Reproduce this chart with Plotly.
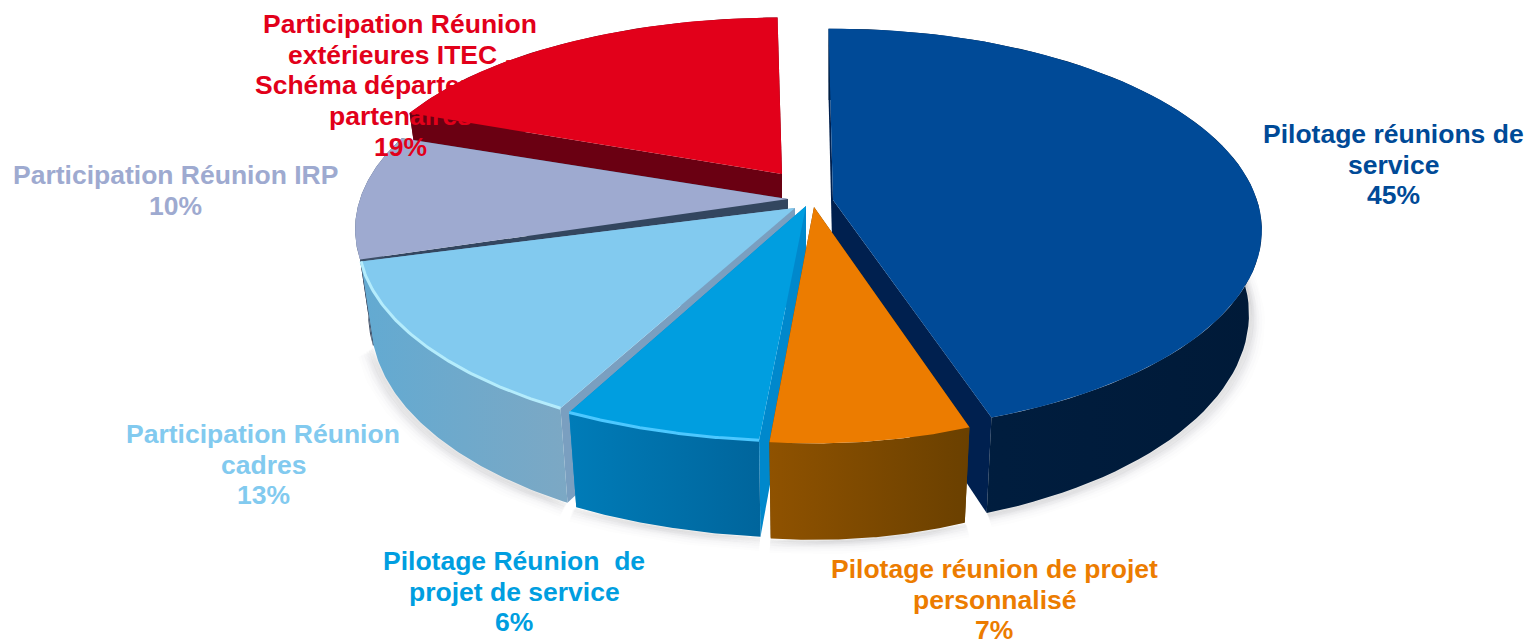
import numpy as np
import plotly.graph_objects as go

# ---- data ----
labels = ["Pilotage réunions de<br>service",
          "Pilotage réunion de projet<br>personnalisé",
          "Pilotage Réunion  de<br>projet de service",
          "Participation Réunion<br>cadres",
          "Participation Réunion IRP",
          "Participation Réunion<br>extérieures ITEC .<br>Schéma départemental<br>partenaires"]
values = [45, 7, 6, 13, 10, 19]

# ---- style ----
top_colors = ["#004a97", "#ec7c00", "#009ee0", "#82caef", "#9eaad0", "#e2001a"]
wall_left = ["#001f42", "#8f5200", "#007cb8", "#62aad2", "#3d4f68", "#6a0012"]
wall_right = ["#001a38", "#6a4000", "#00659c", "#7ca8c4", "#3d4f68", "#6a0012"]
cut_colors = ["#00204f", "#6a4000", "#0088cc", "#7a9fc0", "#33465f", "#6a0012"]
rim_colors = ["#00479a", "#f08a10", "#4cc8ff", "#b4ecfc", "#a8b4d8", "#e2001a"]

# ---- geometry of the drawing (pixel-like axis space) ----
apex = [(833, 200), (814, 207), (806, 206), (795, 208), (788, 199), (782, 174)]
rad_x = [424, 396, 458, 432, 428, 420]
rad_y = [197, 201, 200, 197, 197, 180]
slice_rot = [-0.7, -1.7, -2.2, -0.7, -2.7, -0.7]
k, depth = 0.15, 82
draw_order = [5, 4, 0, 3, 2, 1]
label_xy = [(1393, 134), (994, 569), (514, 561), (263, 434), (175, 175), (400, 24)]
line_pitch = 30.7


def project(i, th, z=0.0):
    th = np.radians(th)
    X, Y = np.sin(th), -np.cos(th)
    s = 1 / (1 - k * Y)
    return (apex[i][0] + rad_x[i] * X * s * (1 - 0.03 * z),
            apex[i][1] + rad_y[i] * Y * s + z * depth * s)


def apex_pt(i, z=0.0):
    return apex[i][0], apex[i][1] + z * depth


edges = np.concatenate([[0], np.cumsum(values)]) / sum(values) * 360
fig = go.Figure()


def poly(xs, ys, color=None, grad=None, line=None, width=0):
    kw = dict(x=list(xs), y=list(ys), mode="lines", fill="toself",
              hoverinfo="skip", showlegend=False,
              line=dict(color=line or "rgba(0,0,0,0)", width=width))
    if grad:
        kw["fillgradient"] = dict(type="horizontal",
                                  colorscale=[[0, grad[0]], [1, grad[1]]])
    else:
        kw["fillcolor"] = color
    fig.add_trace(go.Scatter(**kw))


def arc(i, n):
    return np.linspace(edges[i], edges[i + 1], n) + slice_rot[i]


# soft shadow below the walls
for off, alpha in [(12, 0.012), (10, 0.016), (8, 0.02), (6, 0.025), (4, 0.03), (2, 0.04)]:
    for i in [0, 1, 2, 3]:
        bx, by = project(i, arc(i, 60), 1.0)
        cx = apex[i][0]
        f = 1 + off / 500
        poly(cx + (bx - cx) * f, by + off * 0.7,
             color=f"rgba(90,90,100,{alpha})", line=f"rgba(90,90,100,{alpha})", width=off)

for i in draw_order:
    th = arc(i, 80)
    tx, ty = project(i, th, 0.0)
    bx, by = project(i, th, 1.0)
    ax0, ay0 = apex_pt(i)
    ax1, ay1 = apex_pt(i, 1.0)
    # radial cut faces
    for e in (0, -1):
        poly([ax0, tx[e], bx[e], ax1], [ay0, ty[e], by[e], ay1], color=cut_colors[i])
    # outer wall
    poly(np.r_[tx, bx[::-1]], np.r_[ty, by[::-1]], grad=(wall_left[i], wall_right[i]))
    # top surface
    poly(np.r_[ax0, tx], np.r_[ay0, ty], color=top_colors[i])
    # lit rim on the front edge
    front = ty > apex[i][1] + 20
    if front.any() and i in (2, 3):
        fig.add_trace(go.Scatter(x=tx[front], y=ty[front], mode="lines", hoverinfo="skip",
                                 showlegend=False, line=dict(color=rim_colors[i], width=3)))

for i, lab in enumerate(labels):
    lines = lab.split("<br>") + [f"{values[i]}%"]
    for n, text in enumerate(lines):
        fig.add_annotation(x=label_xy[i][0], y=label_xy[i][1] + n * line_pitch, xref="x", yref="y",
                           text=f"<b>{text}</b>", showarrow=False,
                           xanchor="center", yanchor="middle", align="center",
                           font=dict(family="Liberation Sans, Arial", size=26.5, color=top_colors[i]))

fig.update_xaxes(range=[0, 1528], visible=False, fixedrange=True)
fig.update_yaxes(range=[640, 0], visible=False, fixedrange=True)
fig.update_layout(width=1528, height=640, margin=dict(l=0, r=0, t=0, b=0),
                  paper_bgcolor="white", plot_bgcolor="white", showlegend=False)
fig.write_html("out.html", config={"displayModeBar": False},
               post_script="document.body.style.margin='0';document.body.style.overflow='hidden';")
